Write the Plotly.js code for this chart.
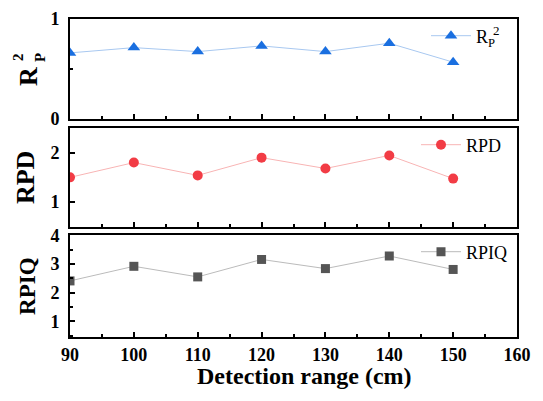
<!DOCTYPE html>
<html><head><meta charset="utf-8">
<script src="https://cdn.plot.ly/plotly-3.0.1.min.js"></script>
<style>html,body{margin:0;padding:0;background:#fff;}#chart{width:543px;height:401px;}</style>
</head><body><div id="chart"></div>
<script>
const ranges = [90, 100, 110, 120, 130, 140, 150];
const r2p = [0.66, 0.713, 0.673, 0.73, 0.673, 0.757, 0.567];
const rpd = [1.50, 1.80, 1.54, 1.90, 1.68, 1.945, 1.475];
const rpiq = [2.41, 2.92, 2.55, 3.16, 2.84, 3.28, 2.81];
const xTickVals = [90, 100, 110, 120, 130, 140, 150, 160];

const FONT = 'Liberation Serif, serif';
function tf(size, bold) { return {family: FONT, size: size, color: '#000', weight: bold ? 'bold' : 'normal'}; }

function xax(anchor, showLabels) {
  return {
    anchor: anchor, range: [90, 160], tickvals: xTickVals, ticks: 'inside', ticklen: 5, tickwidth: 2,
    tickcolor: '#000', showticklabels: showLabels, tickfont: tf(18, true), ticklabelstandoff: 0,
    showline: true, linewidth: 2, linecolor: '#000', mirror: true, showgrid: false, zeroline: false,
    minor: {dtick: 5, ticks: 'inside', ticklen: 3, tickwidth: 2, tickcolor: '#000', showgrid: false}
  };
}
function yax(domain, range, tickvals, minorDtick, title, tsize) {
  const a = {
    domain: domain, range: range, tickvals: tickvals, ticks: 'inside', ticklen: 5, tickwidth: 2,
    tickcolor: '#000', tickfont: tf(18, true), ticklabelstandoff: 5, showline: true, linewidth: 2, linecolor: '#000', mirror: true,
    showgrid: false, zeroline: false,
    title: {text: title, font: tf(tsize, true), standoff: 8}
  };
  if (minorDtick) a.minor = {dtick: minorDtick, ticks: 'inside', ticklen: 3, tickwidth: 2, tickcolor: '#000', showgrid: false};
  return a;
}
const data = [
  {x: ranges, y: r2p, name: 'R<sub>P</sub>', type: 'scatter', mode: 'lines+markers', xaxis: 'x', yaxis: 'y',
   line: {color: '#a8c8f0', width: 1}, marker: {symbol: 'triangle-up', size: 11, color: '#1a6fe0'}, legend: 'legend'},
  {x: ranges, y: rpd, name: 'RPD', type: 'scatter', mode: 'lines+markers', xaxis: 'x2', yaxis: 'y2',
   line: {color: '#f8b4b4', width: 1}, marker: {symbol: 'circle', size: 10, color: '#f23c45'}, legend: 'legend2'},
  {x: ranges, y: rpiq, name: 'RPIQ', type: 'scatter', mode: 'lines+markers', xaxis: 'x3', yaxis: 'y3',
   line: {color: '#bbbbbb', width: 1}, marker: {symbol: 'square', size: 9, color: '#555555'}, legend: 'legend3'}
];
function px(x) { return (x - 70) / 447; }
function py(y) { return (337 - y) / 318; }
const annotations = [
  {text: '<b>R</b>', x: px(29), y: py(77), xref: 'paper', yref: 'paper', showarrow: false, textangle: -90, font: tf(26, true), xanchor: 'center', yanchor: 'middle'},
  {text: '<b>2</b>', x: px(18), y: py(57), xref: 'paper', yref: 'paper', showarrow: false, textangle: -90, font: tf(15, true), xanchor: 'center', yanchor: 'middle'},
  {text: '<b>P</b>', x: px(40), y: py(58), xref: 'paper', yref: 'paper', showarrow: false, textangle: -90, font: tf(15, true), xanchor: 'center', yanchor: 'middle'},
  {text: 'Detection range (cm)', x: px(304), y: py(376), xref: 'paper', yref: 'paper', showarrow: false, font: tf(24, true), xanchor: 'center', yanchor: 'middle', borderpad: 0},
  {text: '2', x: px(496), y: py(30), xref: 'paper', yref: 'paper', showarrow: false, font: tf(13, false), xanchor: 'center', yanchor: 'middle'}
];
const legBase = {xanchor: 'left', yanchor: 'middle', font: tf(18, false), bgcolor: 'rgba(0,0,0,0)', itemwidth: 40, tracegroupgap: 0};
const layout = {
  width: 543, height: 401, margin: {l: 70, r: 26, t: 19, b: 64},
  paper_bgcolor: '#fff', plot_bgcolor: '#fff', showlegend: true,
  font: {family: FONT, color: '#000'},
  xaxis: xax('y', false), xaxis2: xax('y2', false), xaxis3: xax('y3', true),
  yaxis: yax([0.6865, 1], [0, 1], [0, 1], 0.5, '', 26),
  yaxis2: yax([0.347, 0.657], [0.5, 2.5], [1, 2], null, 'RPD', 26),
  yaxis3: yax([0, 0.3195], [0.45, 4], [1, 2, 3, 4], 0.5, 'RPIQ', 23),
  legend: Object.assign({x: px(426), y: py(36)}, legBase),
  legend2: Object.assign({x: px(416), y: py(145)}, legBase),
  legend3: Object.assign({x: px(416), y: py(252)}, legBase),
  annotations: annotations
};
Plotly.newPlot('chart', data, layout, {staticPlot: true, displayModeBar: false});
</script></body></html>
